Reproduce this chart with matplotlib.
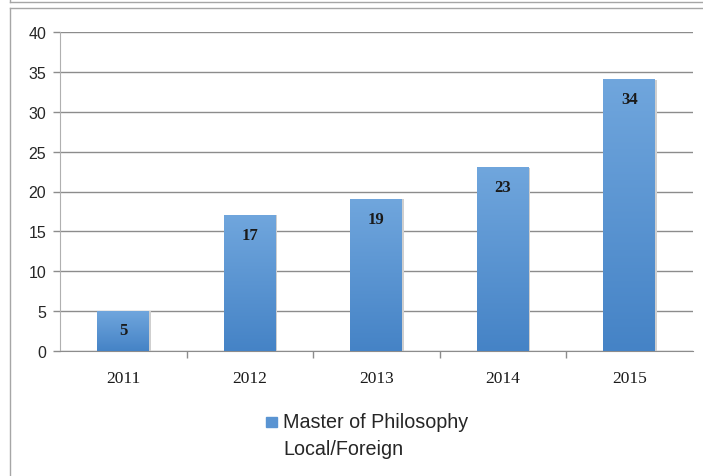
#=======================#
# Libraries importation #
#=======================#

import numpy as np
import matplotlib.pyplot as plt
from matplotlib.lines import Line2D
from matplotlib.patches import Rectangle

#==================#
# Data             #
#==================#

years = ["2011", "2012", "2013", "2014", "2015"]
counts = [5, 17, 19, 23, 34]
series_name = "Master of Philosophy\nLocal/Foreign"

TOP_COLOR = np.array([0x70, 0xa6, 0xdd]) / 255
BOTTOM_COLOR = np.array([0x45, 0x83, 0xc6]) / 255
GRID_COLOR = "#8c8c8c"
FRAME_COLOR = "#a6a6a6"

#==================#
# Figure           #
#==================#

fig = plt.figure(figsize=(7.03, 4.77), dpi=100)
ax = fig.add_axes([60 / 703, 1 - 352 / 477, 632.5 / 703, 319 / 477])

x = np.arange(len(years))
width = 0.41
bars = ax.bar(x, counts, width=width, color=BOTTOM_COLOR, zorder=2)

# vertical gradient fill inside each bar
grad = np.linspace(0, 1, 256).reshape(-1, 1)
cols = BOTTOM_COLOR[None, None, :] * (1 - grad[..., None]) + TOP_COLOR[None, None, :] * grad[..., None]
for b in bars:
    bx, by = b.get_x(), b.get_y()
    bw, bh = b.get_width(), b.get_height()
    ax.imshow(cols, extent=[bx, bx + bw, by, by + bh], origin="lower",
              aspect="auto", zorder=3)
    # soft shadow on the right
    ax.add_patch(Rectangle((bx + bw, by), 0.012, bh, color="#cfcfcf",
                           zorder=1.5, lw=0))

for xi, v in zip(x, counts):
    ax.text(xi, v - 2.4, str(v), ha="center", va="center",
            family="Liberation Serif", fontweight="bold", fontsize=12,
            color="#1a1a1a", zorder=4)

ax.set_xlim(-0.5, len(years) - 0.5)
ax.set_ylim(0, 40)
ax.set_yticks(range(0, 41, 5))
ax.set_yticklabels([str(t) for t in range(0, 41, 5)],
                   family="Liberation Sans", fontsize=11.5, color="#262626")
ax.set_xticks(x)
ax.set_xticklabels(years, family="Liberation Serif", fontsize=12.5,
                   color="#1a1a1a")
ax.set_xticks(np.arange(0.5, len(years) - 1, 1), minor=True)
ax.tick_params(axis="x", which="major", length=0, pad=14)
ax.tick_params(axis="x", which="minor", length=5, color=GRID_COLOR, width=1)
ax.tick_params(axis="y", length=5, color=GRID_COLOR, width=1, pad=5)

ax.yaxis.grid(True, color=GRID_COLOR, linewidth=1)
ax.set_axisbelow(True)
for s in ["top", "right"]:
    ax.spines[s].set_visible(False)
ax.spines["left"].set_color("#b0b0b0")
ax.spines["bottom"].set_color(GRID_COLOR)

# legend: marker aligned with the first text line
fig.add_artist(Rectangle((266 / 703, 1 - 428 / 477), 11 / 703, 10 / 477,
                         color=(TOP_COLOR + BOTTOM_COLOR) / 2,
                         transform=fig.transFigure))
fig.text(283 / 703, 1 - 413 / 477, series_name, ha="left", va="top",
         family="Liberation Sans", fontsize=14.2, color="#262626",
         linespacing=1.55)

# outer frames
fig.add_artist(Line2D([10 / 703, 1], [1 - 3 / 477, 1 - 3 / 477], color=FRAME_COLOR, lw=1))
fig.add_artist(Line2D([10 / 703, 10 / 703], [1, 1 - 3 / 477], color=FRAME_COLOR, lw=1))
fig.add_artist(Line2D([10 / 703, 1], [1 - 9 / 477, 1 - 9 / 477], color=FRAME_COLOR, lw=1))
fig.add_artist(Line2D([10 / 703, 10 / 703], [0, 1 - 9 / 477], color=FRAME_COLOR, lw=1))

fig.savefig("out.png", dpi=100)
